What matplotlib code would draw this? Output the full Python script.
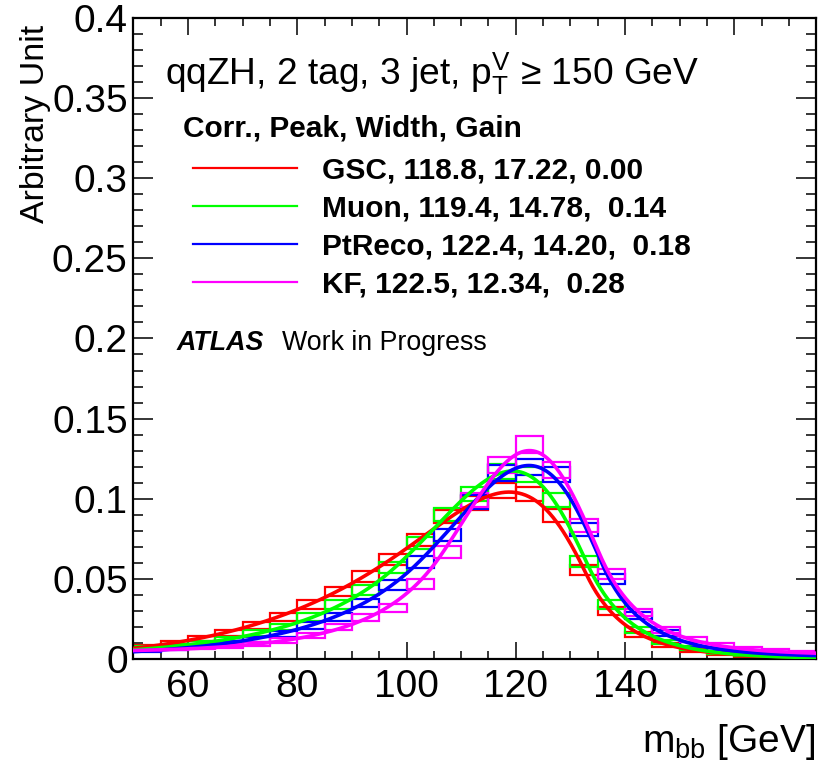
import numpy as np
import matplotlib
matplotlib.use('Agg')
import matplotlib.pyplot as plt
from matplotlib.lines import Line2D
from matplotlib.ticker import MultipleLocator, FuncFormatter

plt.rcParams['font.family'] = ['Liberation Sans', 'DejaVu Sans']
plt.rcParams['mathtext.fontset'] = 'custom'
plt.rcParams['mathtext.rm'] = 'Liberation Sans'
plt.rcParams['mathtext.it'] = 'Liberation Sans:italic'
plt.rcParams['mathtext.bf'] = 'Liberation Sans:bold'

# m_bb bins, 5 GeV wide (lower edges)
bin_lo = [50, 55, 60, 65, 70, 75, 80, 85, 90, 95, 100, 105, 110, 115, 120,
          125, 130, 135, 140, 145, 150, 155, 160, 165, 170]
bin_width = 5

# normalised contents and errors
gsc = [0.0077, 0.0100, 0.0128, 0.0163, 0.0210, 0.0262, 0.0340, 0.0420, 0.0515, 0.0620,
       0.0740, 0.0890, 0.0975, 0.1050, 0.1030, 0.0895, 0.0555, 0.0300, 0.0153, 0.0085,
       0.0056, 0.0035, 0.0022, 0.0014, 0.0010]
gsc_err = [0.0012, 0.0014, 0.0016, 0.0018, 0.0020, 0.0023, 0.0026, 0.0029, 0.0032, 0.0035,
           0.0038, 0.0042, 0.0044, 0.0046, 0.0045, 0.0042, 0.0033, 0.0024, 0.0017, 0.0013,
           0.0011, 0.0008, 0.0007, 0.0005, 0.0004]

muon = [0.0070, 0.0082, 0.0098, 0.0120, 0.0160, 0.0200, 0.0262, 0.0340, 0.0430, 0.0570,
        0.0725, 0.0900, 0.1030, 0.1170, 0.1150, 0.0990, 0.0610, 0.0340, 0.0180, 0.0105,
        0.0067, 0.0042, 0.0026, 0.0016, 0.0010]
muon_err = [0.0012, 0.0013, 0.0014, 0.0015, 0.0018, 0.0020, 0.0023, 0.0026, 0.0029, 0.0034,
            0.0038, 0.0042, 0.0045, 0.0048, 0.0048, 0.0044, 0.0035, 0.0026, 0.0019, 0.0014,
            0.0012, 0.0009, 0.0007, 0.0006, 0.0004]

ptreco = [0.0056, 0.0067, 0.0081, 0.0098, 0.0123, 0.0158, 0.0210, 0.0262, 0.0350, 0.0460,
          0.0605, 0.0775, 0.0980, 0.1160, 0.1200, 0.1150, 0.0810, 0.0500, 0.0270, 0.0160,
          0.0090, 0.0060, 0.0045, 0.0035, 0.0025]
ptreco_err = [0.0011, 0.0012, 0.0013, 0.0014, 0.0016, 0.0018, 0.0020, 0.0023, 0.0026, 0.0030,
              0.0035, 0.0039, 0.0044, 0.0048, 0.0049, 0.0048, 0.0040, 0.0032, 0.0023, 0.0018,
              0.0013, 0.0011, 0.0009, 0.0008, 0.0007]

kf = [0.0060, 0.0066, 0.0073, 0.0081, 0.0092, 0.0115, 0.0148, 0.0200, 0.0260, 0.0320,
      0.0470, 0.0670, 0.0990, 0.1210, 0.1340, 0.1180, 0.0835, 0.0530, 0.0290, 0.0180,
      0.0120, 0.0085, 0.0063, 0.0052, 0.0042]
kf_err = [0.0011, 0.0011, 0.0012, 0.0013, 0.0014, 0.0015, 0.0017, 0.0020, 0.0023, 0.0025,
          0.0031, 0.0037, 0.0044, 0.0049, 0.0052, 0.0049, 0.0041, 0.0033, 0.0024, 0.0019,
          0.0015, 0.0013, 0.0011, 0.0010, 0.0009]

# legend numbers: Corr., Peak, Width, Gain
corr_names = ['GSC', 'Muon', 'PtReco', 'KF']
peaks = [118.8, 119.4, 122.4, 122.5]
widths = [17.22, 14.78, 14.20, 12.34]
gains = ['0.00', ' 0.14', ' 0.18', ' 0.28']
colors = ['#ff0000', '#00ff00', '#0000ff', '#ff00ff']


def bukin(x, xp, sigp, xi, rho1, rho2):
    # same shape as RooBukinPdf
    hp = sigp * 2 * np.sqrt(2 * np.log(2))
    r3 = np.log(2.)
    r4 = np.sqrt(xi ** 2 + 1)
    r1 = xi / r4
    r5 = xi / np.log(r4 + xi)
    x1 = xp + hp / 2 * (r1 - 1)
    x2 = xp + hp / 2 * (r1 + 1)
    left = rho1 * ((x - x1) / (xp - x1)) ** 2 - r3 + 4 * r3 * (x - x1) / hp * r5 * r4 / (r4 - xi) ** 2
    with np.errstate(all='ignore'):
        c = np.log(np.clip(1 + 4 * xi * r4 * (x - xp) / hp, 1e-12, None)) / np.log(1 + 2 * xi * (xi - r4))
    center = -r3 * c ** 2
    right = rho2 * ((x - x2) / (xp - x2)) ** 2 - r3 - 4 * r3 * (x - x2) / hp * r5 * r4 / (r4 + xi) ** 2
    r2 = np.where(x < x1, left, np.where(x < x2, center, right))
    return np.exp(np.clip(r2, -100, 5))


def fitBukin(centres, y, err, xp, sigp):
    # crude grid search for the shape, amplitude solved analytically
    xi = np.linspace(-0.7125, 0.2875, 41)[:, None, None, None]
    rho1 = np.linspace(-0.6, 0.2, 17)[None, :, None, None]
    rho2 = np.linspace(-0.6, 0.2, 17)[None, None, :, None]
    f = bukin(centres[None, None, None, :], xp, sigp, xi, rho1, rho2)
    w = 1.0 / err ** 2
    amp = (w * f * y).sum(-1) / (w * f * f).sum(-1)
    chi2 = (w * (y - amp[..., None] * f) ** 2).sum(-1)
    i, j, k = np.unravel_index(np.argmin(chi2), chi2.shape)
    return amp[i, j, k], xi[i, 0, 0, 0], rho1[0, j, 0, 0], rho2[0, 0, k, 0]


fig = plt.figure(figsize=(8.33, 7.71), dpi=100)
ax = fig.add_axes([0.160, 0.1453, 0.820, 0.8314])

lo = np.array(bin_lo, dtype=float)
centres = lo + bin_width / 2.
xx = np.linspace(50, 175, 600)

series = [(gsc, gsc_err), (muon, muon_err), (ptreco, ptreco_err), (kf, kf_err)]
for (vals, errs), col in zip(series, colors):
    v = np.array(vals)
    e = np.array(errs)
    ax.bar(lo, 2 * e, bottom=v - e, width=bin_width, align='edge', fill=False,
           edgecolor=col, linewidth=1.6, zorder=2)
for (vals, errs), col, pk, wd in zip(series, colors, peaks, widths):
    amp, xi, r1, r2 = fitBukin(centres, np.array(vals), np.array(errs), pk, wd)
    ax.plot(xx, amp * bukin(xx, pk, wd, xi, r1, r2), color=col, lw=2.6, zorder=3)

ax.set_xlim(50, 175)
ax.set_ylim(0, 0.4)
ax.xaxis.set_major_locator(MultipleLocator(20))
ax.xaxis.set_minor_locator(MultipleLocator(5))
ax.yaxis.set_major_locator(MultipleLocator(0.05))
ax.yaxis.set_minor_locator(MultipleLocator(0.01))
ax.yaxis.set_major_formatter(FuncFormatter(lambda v, p: '%g' % round(v, 3)))
ax.tick_params(which='both', direction='in', top=True, right=True, labelsize=28, width=1.1)
ax.tick_params(axis='x', which='major', length=12.2, pad=7)
ax.tick_params(axis='x', which='minor', length=5.8)
ax.tick_params(axis='y', which='major', length=14.4, pad=4)
ax.tick_params(axis='y', which='minor', length=7.2)
for s in ax.spines.values():
    s.set_linewidth(1.6)

ax.set_xlabel(r'$\mathrm{m}_{\mathrm{bb}}$ [GeV]', fontsize=28, loc='right')
ax.xaxis.set_label_coords(0.9985, -0.098)
ax.set_ylabel('Arbitrary Unit', fontsize=24.5, loc='top')
ax.yaxis.set_label_coords(-0.121, 0.989)

ax.text(0.047, 0.895, r'qqZH, 2 tag, 3 jet, $\mathrm{p}_{\mathrm{T}}^{\mathrm{V}}$ ≥ 150 GeV',
        transform=ax.transAxes, fontsize=26.7, va='baseline', ha='left')
ax.text(0.073, 0.828, 'Corr., Peak, Width, Gain', transform=ax.transAxes,
        fontsize=21.5, weight='bold', va='center', ha='left')

handles = [Line2D([], [], color=c, lw=1.6) for c in colors]
labels = ['%s, %.1f, %.2f, %s' % (n, p, w, g) for n, p, w, g in zip(corr_names, peaks, widths, gains)]
ax.legend(handles, labels, loc='upper left', bbox_to_anchor=(0.088, 0.784), frameon=False,
          prop={'size': 21.5, 'weight': 'bold'}, handlelength=3.48, handletextpad=0.84,
          labelspacing=0.34, borderpad=0, borderaxespad=0)

ax.text(0.064, 0.493, 'ATLAS', transform=ax.transAxes, fontsize=19.3, weight='bold',
        style='italic', va='center', ha='left')
ax.text(0.218, 0.493, 'Work in Progress', transform=ax.transAxes, fontsize=19.3,
        va='center', ha='left')

fig.savefig('out.png', dpi=100)
